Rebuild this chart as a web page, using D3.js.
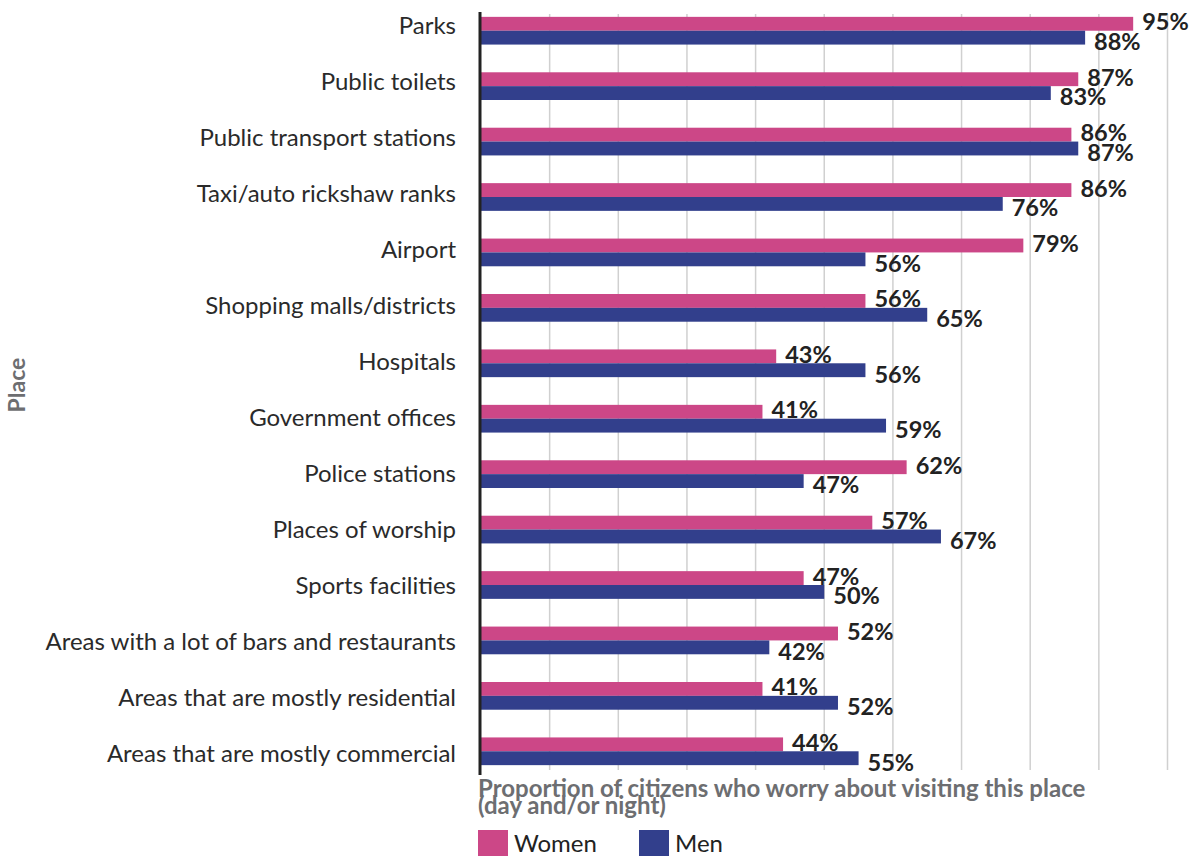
<!DOCTYPE html>
<html>
<head>
<meta charset="utf-8">
<script src="https://cdn.jsdelivr.net/npm/d3@7/dist/d3.min.js"></script>
<style>
  html, body { margin: 0; padding: 0; background: #fff; }
  svg { display: block; font-family: Lato, "Noto Sans", sans-serif; }
</style>
</head>
<body>
<svg id="chart" width="1200" height="856"></svg>
<script>
// Places where citizens worry about their safety, by gender (%)
const places = [
  "Parks",
  "Public toilets",
  "Public transport stations",
  "Taxi/auto rickshaw ranks",
  "Airport",
  "Shopping malls/districts",
  "Hospitals",
  "Government offices",
  "Police stations",
  "Places of worship",
  "Sports facilities",
  "Areas with a lot of bars and restaurants",
  "Areas that are mostly residential",
  "Areas that are mostly commercial"
];
const women = [95, 87, 86, 86, 79, 56, 43, 41, 62, 57, 47, 52, 41, 44];
const men   = [88, 83, 87, 76, 56, 65, 56, 59, 47, 67, 50, 42, 52, 55];
const seriesNames = ["Women", "Men"];
const seriesColors = ["#cc4787", "#323f8c"];
const gridTicks = [10, 20, 30, 40, 50, 60, 70, 80, 90, 100];
const xTitleLines = ["Proportion of citizens who worry about visiting this place", "(day and/or night)"];
const yTitle = "Place";

const svg = d3.select("#chart");

const x = d3.scaleLinear().domain([0, 100]).range([481, 1167.5]);
const y = d3.scaleBand().domain(places).range([3, 779]).paddingInner(0.5).paddingOuter(0.25);
const sub = d3.scaleBand().domain(seriesNames).range([0, y.bandwidth()]);
const color = d3.scaleOrdinal().domain(seriesNames).range(seriesColors);
// category labels sit on their own evenly spaced rail
const yLabel = d3.scalePoint().domain(places).range([25.5, 754]);

const rows = places.map((p, i) => ({ place: p, values: [
  { key: "Women", value: women[i] },
  { key: "Men", value: men[i] }
]}));

// vertical gridlines
svg.append("g")
  .selectAll("line")
  .data(gridTicks)
  .join("line")
  .attr("x1", d => x(d)).attr("x2", d => x(d))
  .attr("y1", 14).attr("y2", 770)
  .attr("stroke", "#d0d0d0")
  .attr("stroke-width", 1.5);

// bars
const rowG = svg.append("g")
  .selectAll("g")
  .data(rows)
  .join("g")
  .attr("transform", d => `translate(0,${y(d.place)})`);

rowG.selectAll("rect")
  .data(d => d.values)
  .join("rect")
  .attr("x", x(0) - 1)
  .attr("y", d => sub(d.key))
  .attr("width", d => x(d.value) - x(0) + 1)
  .attr("height", sub.bandwidth())
  .attr("fill", d => color(d.key));

// value labels: women above the split, men below
rowG.selectAll("text")
  .data(d => d.values)
  .join("text")
  .attr("x", d => x(d.value) + 9)
  .attr("y", d => d.key === "Women" ? sub(d.key) + sub.bandwidth() - 0.5 : sub(d.key) + sub.bandwidth() + 5.5)
  .attr("font-size", 23.5)
  .attr("font-weight", 700)
  .attr("fill", "#222")
  .text(d => d.value + "%");

// category labels
svg.append("g")
  .selectAll("text")
  .data(places)
  .join("text")
  .attr("x", 456)
  .attr("y", d => yLabel(d))
  .attr("dy", "0.35em")
  .attr("text-anchor", "end")
  .attr("font-size", 24)
  .attr("fill", "#2a2a2a")
  .text(d => d);

// axis line
svg.append("line")
  .attr("x1", 480).attr("x2", 480)
  .attr("y1", 12).attr("y2", 775)
  .attr("stroke", "#222")
  .attr("stroke-width", 3);

// x axis title
svg.append("text")
  .attr("x", 478)
  .attr("font-size", 24)
  .attr("font-weight", 700)
  .attr("fill", "#6d6e71")
  .selectAll("tspan")
  .data(xTitleLines)
  .join("tspan")
  .attr("x", 478)
  .attr("y", (d, i) => 797 + i * 17)
  .text(d => d);

// y axis title
svg.append("text")
  .attr("transform", "translate(25,385) rotate(-90)")
  .attr("text-anchor", "middle")
  .attr("font-size", 23)
  .attr("font-weight", 700)
  .attr("fill", "#6d6e71")
  .text(yTitle);

// legend
const legendX = [478, 639];
const legend = svg.append("g")
  .selectAll("g")
  .data(seriesNames)
  .join("g")
  .attr("transform", (d, i) => `translate(${legendX[i]},830)`);
legend.append("rect")
  .attr("width", 30).attr("height", 27)
  .attr("fill", d => color(d));
legend.append("text")
  .attr("x", 36).attr("y", 22)
  .attr("font-size", 24)
  .attr("fill", "#222")
  .text(d => d);
</script>
</body>
</html>
